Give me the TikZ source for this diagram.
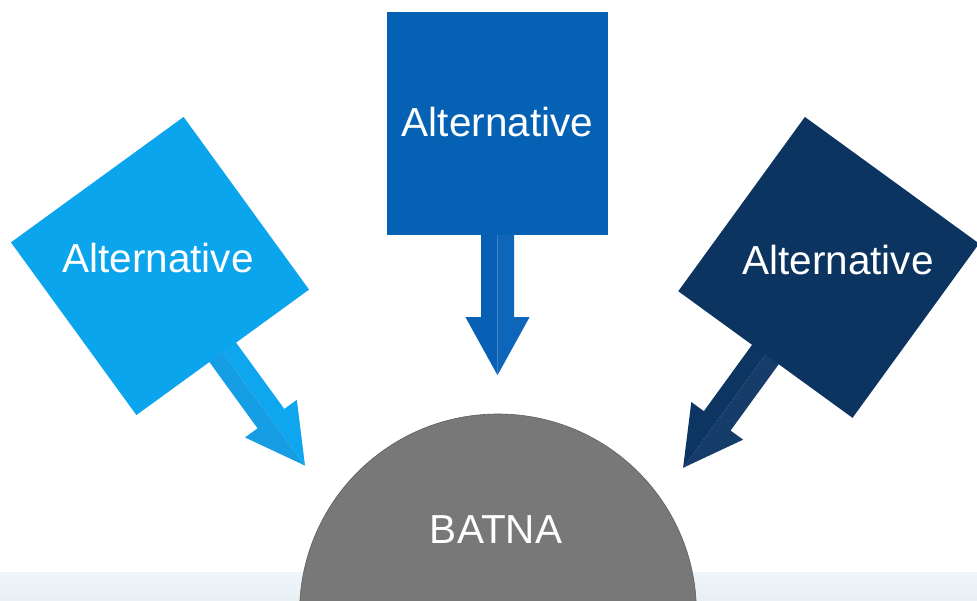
\documentclass[tikz,border=0pt]{standalone}
\usepackage{fontspec}
\setmainfont{Liberation Sans}
\usetikzlibrary{calc}

\definecolor{altA}{RGB}{10,165,236}
\definecolor{altB}{RGB}{5,97,179}
\definecolor{altC}{RGB}{11,52,97}
\definecolor{arrAlight}{RGB}{14,166,238}
\definecolor{arrAdark}{RGB}{22,158,228}
\definecolor{arrBlight}{RGB}{14,102,186}
\definecolor{arrBdark}{RGB}{8,96,180}
\definecolor{arrClight}{RGB}{22,60,106}
\definecolor{arrCdark}{RGB}{12,53,98}
\definecolor{batna}{RGB}{120,120,120}
\definecolor{batnaline}{RGB}{95,95,95}
\definecolor{bandtop}{RGB}{238,246,252}
\definecolor{bandbot}{RGB}{232,240,244}

\tikzset{
  altbox/.style={draw=none, inner sep=0pt, minimum width=#1, minimum height=#1},
  alttext/.style={text=white, inner sep=0pt, font=\fontsize{40.5}{48}\selectfont},
  batnacircle/.style={circle, fill=batna, draw=batnaline, line width=0.6pt, inner sep=0pt, minimum size=396.8pt},
}

% Block arrow from square anchor (#1) to tip (#2): two halves in two tones
\newcommand{\blockarrow}[4]{%
  \coordinate (ba0) at ($(#1)!-3pt!(#2)$);
  \coordinate (bab) at ($(#1)!82pt!(#2)$);
  \fill[#3] (ba0) -- ($(ba0)!16.5pt!90:(#2)$) -- ($(bab)!16.5pt!90:(#2)$)
     -- ($(bab)!32pt!90:(#2)$) -- (#2) -- (bab) -- cycle;
  \fill[#4] (ba0) -- ($(ba0)!16.5pt!-90:(#2)$) -- ($(bab)!16.5pt!-90:(#2)$)
     -- ($(bab)!32pt!-90:(#2)$) -- (#2) -- (bab) -- cycle;
}

\begin{document}
\begin{tikzpicture}[x=1pt, y=1pt]
  \useasboundingbox (0,0) rectangle (977,600);
  \fill[white] (0,0) rectangle (977,600);

  % pale floor band
  \shade[top color=bandtop, bottom color=bandbot] (0,0) rectangle (977,28);

  % the three alternatives (boxes first as anchors)
  \path node[altbox=213pt, rotate=36] (altL) at (160,334) {}
        node[altbox=221pt, minimum height=223pt] (altM) at (497.5,476.5) {}
        node[altbox=215pt, rotate=-36] (altR) at (828.7,332.6) {};

  % arrow tips
  \coordinate (tipL) at ($(altL.south)!140pt!180:(altL.center)$);
  \coordinate (tipM) at ($(altM.south)!140pt!180:(altM.center)$);
  \coordinate (tipR) at ($(altR.south)!140pt!180:(altR.center)$);

  \blockarrow{altL.south}{tipL}{arrAlight}{arrAdark}
  \blockarrow{altM.south}{tipM}{arrBlight}{arrBdark}
  \blockarrow{altR.south}{tipR}{arrClight}{arrCdark}

  % box fills on top of the arrow shafts
  \fill[altA] (altL.north west) -- (altL.north east) -- (altL.south east) -- (altL.south west) -- cycle;
  \fill[altB] (altM.north west) -- (altM.north east) -- (altM.south east) -- (altM.south west) -- cycle;
  \fill[altC] (altR.north west) -- (altR.north east) -- (altR.south east) -- (altR.south west) -- cycle;

  \node[alttext] (txtL) at (158,342) {Alternative};
  \node[alttext] (txtM) at (497.5,478) {Alternative};
  \node[alttext] (txtR) at (838,340) {Alternative};

  % BATNA half-disc rising from the floor
  \begin{scope}
    \clip (0,0) rectangle (977,600);
    \node[batnacircle] (batna) at (498,-12.4) {};
  \end{scope}
  \node[alttext] (txtB) at (496,70) {BATNA};
\end{tikzpicture}
\end{document}
